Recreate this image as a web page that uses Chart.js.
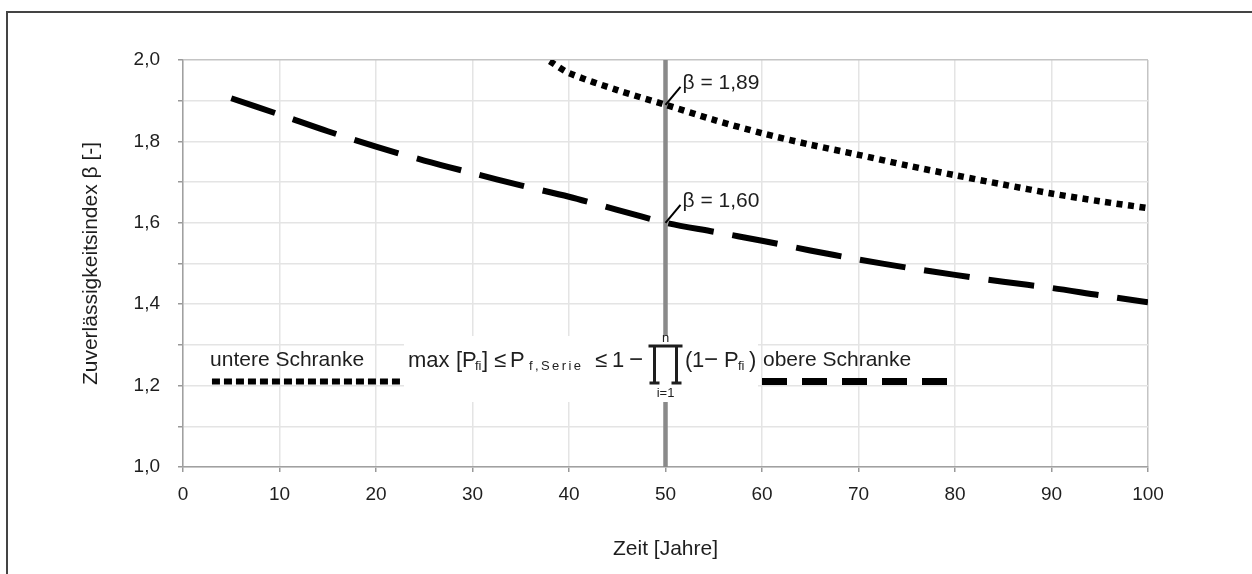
<!DOCTYPE html>
<html>
<head>
<meta charset="utf-8">
<script src="https://cdn.jsdelivr.net/npm/chart.js@4.4.0/dist/chart.umd.min.js"></script>
<style>
  html, body { margin: 0; padding: 0; background: #fff; }
  canvas { display: block; }
</style>
</head>
<body>
<canvas id="myChart" width="1252" height="574"></canvas>
<script>
// Zeit in Jahren und Zuverlässigkeitsindex der beiden Schranken
const zeitUntere = [38, 40, 45, 50, 55, 60, 65, 70, 75, 80, 85, 90, 95, 100];
const betaUntere = [1.997, 1.968, 1.926, 1.89, 1.853, 1.82, 1.792, 1.767, 1.741, 1.717, 1.694, 1.672, 1.653, 1.636];

const zeitObere = [5, 10, 15, 20, 25, 30, 35, 40, 45, 50, 55, 60, 65, 70, 75, 80, 85, 90, 95, 100];
const betaObere = [1.906, 1.866, 1.825, 1.787, 1.753, 1.722, 1.692, 1.664, 1.632, 1.60, 1.578, 1.556, 1.532, 1.51, 1.49, 1.472, 1.455, 1.44, 1.422, 1.405];

// senkrechte Linie bei 50 Jahren und die markierten Werte
const stichjahr = 50;
const markWerte = [1.89, 1.60];
const markTexte = ['β = 1,89', 'β = 1,60'];

const legendeTexte = ['untere Schranke', 'obere Schranke'];

const FONT = "'Liberation Sans', Arial, sans-serif";

// Rahmen, Linie bei 50, Legende, Formel
const extras = {
  id: 'extras',
  beforeDraw(chart) {
    const c = chart.ctx;
    c.save();
    c.fillStyle = '#fff';
    c.fillRect(0, 0, chart.width, chart.height);
    c.strokeStyle = '#444';
    c.lineWidth = 2;
    c.beginPath();
    c.moveTo(7, chart.height);
    c.lineTo(7, 12);
    c.lineTo(chart.width, 12);
    c.stroke();
    c.restore();
  },
  beforeDatasetsDraw(chart) {
    const { ctx: c, scales: { x, y } } = chart;
    const px = x.getPixelForValue(stichjahr);
    c.save();
    c.strokeStyle = '#8a8a8a';
    c.lineWidth = 4.5;
    c.beginPath();
    c.moveTo(px, y.top);
    c.lineTo(px, y.bottom);
    c.stroke();
    c.restore();
  },
  afterDatasetsDraw(chart) {
    const { ctx: c, scales: { x, y } } = chart;
    const px = x.getPixelForValue(stichjahr);
    c.save();

    // Markierungen mit Hinweislinie
    c.strokeStyle = '#000';
    c.lineWidth = 2;
    c.fillStyle = '#1e1e1e';
    c.font = '21px ' + FONT;
    c.textBaseline = 'middle';
    markWerte.forEach((v, i) => {
      const py = y.getPixelForValue(v);
      c.beginPath();
      c.moveTo(px, py);
      c.lineTo(px + 15, py - 18);
      c.stroke();
      c.fillText(markTexte[i], px + 17, py - 22);
    });

    // Legende
    const ly = y.getPixelForValue(1.21);
    c.lineWidth = 6;
    c.setLineDash([8, 4]);
    c.beginPath();
    c.moveTo(x.getPixelForValue(3), ly);
    c.lineTo(x.getPixelForValue(22.5), ly);
    c.stroke();
    c.lineWidth = 7;
    c.setLineDash([25, 15]);
    c.beginPath();
    c.moveTo(x.getPixelForValue(60), ly);
    c.lineTo(x.getPixelForValue(79.6), ly);
    c.stroke();
    c.setLineDash([]);

    c.font = '21px ' + FONT;
    c.textBaseline = 'alphabetic';
    c.fillText(legendeTexte[0], x.getPixelForValue(2.8), 366);
    c.fillText(legendeTexte[1], x.getPixelForValue(60.1), 366);

    // Formel mit weissem Hintergrund
    c.fillStyle = '#fff';
    c.fillRect(404, 336, 354, 66);
    c.fillStyle = '#1e1e1e';
    const base = 367;
    const big = '22px ' + FONT;
    const small = '13px ' + FONT;
    const put = (t, x0, f, dy, sp) => {
      c.font = f;
      c.letterSpacing = sp || '0px';
      c.fillText(t, x0, base + dy);
    };
    put('max', 408, big, 0);
    put('[', 456, big, 0);
    put('P', 462, big, 0);
    put('fi', 475, small, 3);
    put(']', 482, big, 0);
    put('≤', 494, big, 0);
    put('P', 510, big, 0);
    put('f,Serie', 529, small, 3, '2.4px');
    put('≤', 595, big, 0);
    put('1', 612, big, 0);
    put('−', 629, '24px ' + FONT, 0);

    // Produktzeichen
    c.strokeStyle = '#1e1e1e';
    c.lineWidth = 3;
    c.beginPath();
    c.moveTo(px - 17, 346); c.lineTo(px + 17, 346);
    c.moveTo(px - 11, 346); c.lineTo(px - 11, 383);
    c.moveTo(px + 11, 346); c.lineTo(px + 11, 383);
    c.moveTo(px - 16, 383); c.lineTo(px - 6, 383);
    c.moveTo(px + 6, 383); c.lineTo(px + 16, 383);
    c.stroke();
    c.font = small;
    c.letterSpacing = '0px';
    c.textAlign = 'center';
    c.textBaseline = 'middle';
    c.fillText('n', px, 338);
    c.fillText('i=1', px, 393);
    c.textAlign = 'left';
    c.textBaseline = 'alphabetic';

    put('(', 685, big, 0);
    put('1', 692, big, 0);
    put('−', 704, '24px ' + FONT, 0);
    put('P', 724, big, 0);
    put('fi', 738, small, 3);
    put(')', 749, big, 0);

    c.restore();
  }
};

const ctx = document.getElementById('myChart').getContext('2d');
const myChart = new Chart(ctx, {
  type: 'line',
  data: {
    datasets: [
      {
        label: legendeTexte[0],
        data: zeitUntere.map((t, i) => ({ x: t, y: betaUntere[i] })),
        borderColor: '#000',
        borderWidth: 6.5,
        borderDash: [6, 5.5],
        borderCapStyle: 'butt',
        pointRadius: 0,
        tension: 0.3,
        fill: false
      },
      {
        label: legendeTexte[1],
        data: zeitObere.map((t, i) => ({ x: t, y: betaObere[i] })),
        borderColor: '#000',
        borderWidth: 6,
        borderDash: [46, 19],
        pointRadius: 0,
        tension: 0.3,
        fill: false
      }
    ]
  },
  options: {
    responsive: false,
    animation: false,
    layout: { padding: { top: 60, right: 104, left: 0, bottom: 0 } },
    plugins: {
      legend: { display: false },
      tooltip: { enabled: false }
    },
    scales: {
      x: {
        type: 'linear',
        min: 0,
        max: 100,
        afterFit: (s) => { s.height = 107; },
        ticks: {
          stepSize: 10,
          color: '#1e1e1e',
          padding: 11,
          font: { family: FONT, size: 19 }
        },
        grid: {
          color: (c) => (c.tick && c.tick.value === 100 ? '#c4c4c4' : '#e4e4e4'),
          tickColor: '#999',
          tickLength: 5,
          lineWidth: 1.5
        },
        border: { display: true, color: '#a0a0a0', width: 1.5 },
        title: {
          display: true,
          text: 'Zeit [Jahre]',
          color: '#1e1e1e',
          font: { family: FONT, size: 21 },
          padding: { top: 0, bottom: 12 }
        }
      },
      y: {
        min: 1,
        max: 2,
        afterFit: (s) => { s.width = 183; },
        ticks: {
          stepSize: 0.1,
          color: '#1e1e1e',
          padding: 18,
          font: { family: FONT, size: 19 },
          callback: (v, i) => (i % 2 === 0 ? v.toFixed(1).replace('.', ',') : '')
        },
        grid: {
          color: (c) => (c.tick && Math.abs(c.tick.value - 2) < 1e-6 ? '#c4c4c4' : '#e4e4e4'),
          tickColor: '#999',
          tickLength: 5,
          lineWidth: 1.5
        },
        border: { display: true, color: '#a0a0a0', width: 1.5 },
        title: {
          display: true,
          text: 'Zuverlässigkeitsindex β [-]',
          color: '#1e1e1e',
          font: { family: FONT, size: 21 },
          padding: { top: 79, bottom: 0 }
        }
      }
    }
  },
  plugins: [extras]
});
</script>
</body>
</html>
